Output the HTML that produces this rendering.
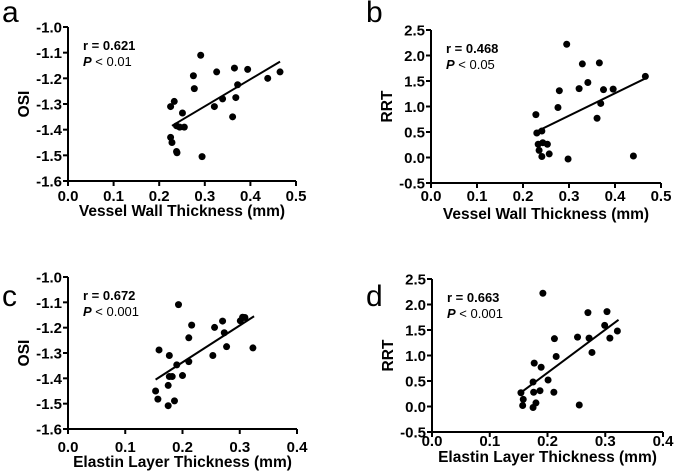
<!DOCTYPE html>
<html><head><meta charset="utf-8"><style>
body{margin:0;background:#fff;}
svg{display:block;font-family:"Liberation Sans",Arial,sans-serif;}
</style></head><body>
<svg id="fig" width="675" height="471" viewBox="0 0 675 471" xmlns="http://www.w3.org/2000/svg"></svg>
<script>
const aX=[0.291,0.275,0.277,0.326,0.365,0.394,0.465,0.438,0.372,0.368,0.339,0.321,0.361,0.225,0.233,0.251,0.238,0.245,0.255,0.225,0.228,0.238,0.239,0.294];
const aY=[-1.11,-1.19,-1.24,-1.175,-1.16,-1.165,-1.175,-1.20,-1.225,-1.275,-1.28,-1.31,-1.35,-1.31,-1.29,-1.335,-1.385,-1.39,-1.39,-1.43,-1.45,-1.485,-1.49,-1.505];
const aFit=[0.228,-1.385,0.465,-1.135];
const bX=[0.295,0.329,0.366,0.466,0.341,0.279,0.322,0.375,0.396,0.276,0.369,0.361,0.228,0.230,0.241,0.233,0.243,0.253,0.235,0.241,0.257,0.298,0.440];
const bY=[2.22,1.835,1.855,1.59,1.47,1.31,1.35,1.33,1.34,0.98,1.06,0.77,0.84,0.48,0.52,0.26,0.29,0.26,0.14,0.02,0.07,-0.03,0.03];
const bFit=[0.232,0.52,0.466,1.55];
const cX=[0.193,0.216,0.211,0.256,0.270,0.273,0.277,0.301,0.305,0.309,0.323,0.253,0.211,0.190,0.159,0.177,0.177,0.182,0.200,0.175,0.153,0.157,0.186,0.175];
const cY=[-1.109,-1.19,-1.24,-1.199,-1.174,-1.22,-1.275,-1.173,-1.159,-1.16,-1.28,-1.31,-1.334,-1.347,-1.288,-1.31,-1.393,-1.393,-1.389,-1.428,-1.45,-1.482,-1.489,-1.508];
const cFit=[0.153,-1.405,0.325,-1.155];
const dX=[0.192,0.270,0.303,0.299,0.321,0.252,0.272,0.308,0.212,0.277,0.215,0.177,0.189,0.201,0.175,0.154,0.176,0.187,0.211,0.158,0.157,0.180,0.175,0.255];
const dY=[2.22,1.84,1.86,1.59,1.48,1.36,1.34,1.34,1.33,1.06,0.98,0.85,0.77,0.52,0.48,0.27,0.28,0.31,0.28,0.14,0.02,0.07,-0.02,0.03];
const dFit=[0.156,0.29,0.323,1.70];
const osiTicks=["-1.0","-1.1","-1.2","-1.3","-1.4","-1.5","-1.6"];
const rrtTicks=["2.5","2.0","1.5","1.0","0.5","0.0","-0.5"];
const xTicks5=["0.0","0.1","0.2","0.3","0.4","0.5"];
const xTicks4=["0.0","0.1","0.2","0.3","0.4"];

const NS="http://www.w3.org/2000/svg";
const svg=document.getElementById('fig');
function mk(tag,attrs,parent,text){const e=document.createElementNS(NS,tag);for(const k in attrs)e.setAttribute(k,attrs[k]);if(text!==undefined)e.textContent=text;parent.appendChild(e);return e;}

function panel(p){
  const g=mk('g',{},svg);
  
  
  const xmin=0,xmax=p.xmax;
  const ymin=p.ymin,ymax=p.ymax;
  const sx=v=>p.x0+(v-xmin)/(xmax-xmin)*(p.x1-p.x0);
  const sy=v=>p.yb+(v-ymin)/(ymax-ymin)*(p.yt-p.yb);
  const ax=mk('path',{d:`M${p.x0},${p.yt} V${p.yb} H${p.x1}`,stroke:'#000','stroke-width':2,fill:'none'},g);
  
  
  p.yt_labels.forEach((t,i)=>{
    const v=parseFloat(t);const y=sy(v);
    mk('line',{x1:p.x0-5,x2:p.x0,y1:y,y2:y,stroke:'#000','stroke-width':2},g);
    const tx=mk('text',{x:p.x0-6,y:y+5.5,'text-anchor':'end','font-size':15,'font-weight':'bold'},g,t);
    
    
  });
  p.xt_labels.forEach(t=>{
    const x=sx(parseFloat(t));
    mk('line',{x1:x,x2:x,y1:p.yb,y2:p.yb+5,stroke:'#000','stroke-width':2},g);
    const tx=mk('text',{x:x,y:p.yb+p.tk,'text-anchor':'middle','font-size':15,'font-weight':'bold'},g,t);
    
    
  });
  const xt=mk('text',{x:(p.x0+p.x1)/2,y:p.yb+p.tt,'text-anchor':'middle','font-size':15.5,'font-weight':'bold'},g,p.xtitle);
  
  
  const yc=(p.yt+p.yb)/2;
  const yt=mk('text',{x:p.x0-39,y:yc,'text-anchor':'middle','font-size':15.5,'font-weight':'bold',transform:`rotate(-90 ${p.x0-39} ${yc})`},g,p.ytitle);
  
  
  const lb=mk('text',{x:p.lx,y:p.ly,'font-size':30},g,p.id);
  
  
  const s1=mk('text',{x:p.x0+15,y:p.yt+23,'font-size':13,'font-weight':'bold'},g,p.r);
  
  
  const s2=mk('text',{x:p.x0+15,y:p.yt+39,'font-size':13},g);
  
  
  mk('tspan',{'font-style':'italic','font-weight':'bold'},s2,'P');
  mk('tspan',{},s2,p.p);
  const f=p.fit;
  const ln=mk('line',{x1:sx(f[0]),y1:sy(f[1]),x2:sx(f[2]),y2:sy(f[3]),stroke:'#000','stroke-width':2},g);
  
  
  p.xs.forEach((v,i)=>{
    const c=mk('circle',{cx:sx(v),cy:sy(p.ys[i]),r:3.5,fill:'#000'},g);
    
    
  });
}
panel({id:'a',x0:68,x1:296,yt:27,yb:181,tk:20,tt:35,xmax:0.5,ymin:-1.6,ymax:-1.0,yt_labels:osiTicks,xt_labels:xTicks5,xtitle:'Vessel Wall Thickness (mm)',ytitle:'OSI',lx:2,ly:22,r:'r = 0.621',p:' < 0.01',fit:aFit,xs:aX,ys:aY});
panel({id:'b',x0:431,x1:661,yt:30,yb:183,tk:18,tt:36,xmax:0.5,ymin:-0.5,ymax:2.5,yt_labels:rrtTicks,xt_labels:xTicks5,xtitle:'Vessel Wall Thickness (mm)',ytitle:'RRT',lx:366,ly:22,r:'r = 0.468',p:' < 0.05',fit:bFit,xs:bX,ys:bY});
panel({id:'c',x0:68,x1:297,yt:277,yb:429,tk:23,tt:38,xmax:0.4,ymin:-1.6,ymax:-1.0,yt_labels:osiTicks,xt_labels:xTicks4,xtitle:'Elastin Layer Thickness (mm)',ytitle:'OSI',lx:2,ly:306,r:'r = 0.672',p:' < 0.001',fit:cFit,xs:cX,ys:cY});
panel({id:'d',x0:432,x1:663,yt:279,yb:432,tk:14,tt:30,xmax:0.4,ymin:-0.5,ymax:2.5,yt_labels:rrtTicks,xt_labels:xTicks4,xtitle:'Elastin Layer Thickness (mm)',ytitle:'RRT',lx:366,ly:306,r:'r = 0.663',p:' < 0.001',fit:dFit,xs:dX,ys:dY});
</script>
</body></html>
